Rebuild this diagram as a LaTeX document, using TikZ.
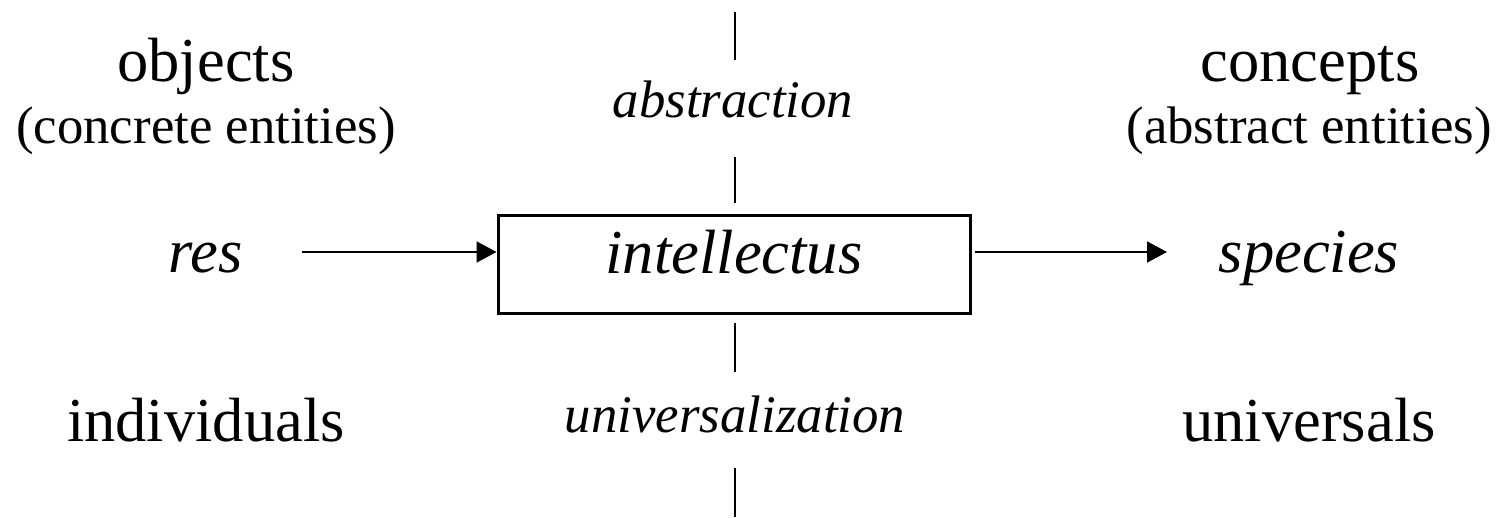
\documentclass[tikz,border=0pt]{standalone}
\usepackage{fontspec}
\setmainfont{Liberation Serif}
\usetikzlibrary{arrows.meta}
\tikzset{
  big/.style={font=\fontsize{62.5pt}{70pt}\selectfont, inner sep=0pt, anchor=base},
  small/.style={font=\fontsize{52.8pt}{60pt}\selectfont, inner sep=0pt, anchor=base},
  bigit/.style={big, font=\fontsize{62.5pt}{70pt}\selectfont\itshape},
  smallit/.style={small, font=\fontsize{52.8pt}{60pt}\selectfont\itshape},
  conn/.style={line width=2pt, -{Triangle[length=20pt,width=21pt]}},
  tick/.style={line width=2pt},
  boxed/.style={draw, line width=3pt, minimum width=472pt, minimum height=98pt, inner sep=0pt,
    text height=33pt, text depth=16pt, font=\fontsize{62.5pt}{70pt}\selectfont\itshape}
}
\begin{document}
\begin{tikzpicture}[x=1pt,y=-1pt]
\useasboundingbox (0,0) rectangle (1501,517);
% left column
\node[big] (objects) at (206,81) {objects};
\node[small] (concrete) at (206,143) {(concrete entities)};
\node[bigit] (res) at (206,272) {res};
\node[big] (individuals) at (206,441) {individuals};
% right column
\node[big] (concepts) at (1310,81) {concepts};
\node[small] (abstractent) at (1309,143) {(abstract entities)};
\node[bigit] (species) at (1309,272) {species};
\node[big] (universals) at (1309,441) {universals};
% centre
\node[boxed] (box) at (734,264.5) {intellectus};
\node[smallit] (abstraction) at (733,117) {abstraction};
\node[smallit] (universalization) at (735,432) {universalization};
% vertical ticks
\coordinate (t1a) at (735,12);  \coordinate (t1b) at (735,60);
\coordinate (t2a) at (735,157); \coordinate (t2b) at (735,203);
\coordinate (t3a) at (735,323); \coordinate (t3b) at (735,372);
\coordinate (t4a) at (735,468); \coordinate (t4b) at (735,517);
\draw[tick] (t1a) -- (t1b);
\draw[tick] (t2a) -- (t2b);
\draw[tick] (t3a) -- (t3b);
\draw[tick] (t4a) -- (t4b);
% arrows
\coordinate (a1) at (302,252);
\coordinate (a2) at (1167,252);
\draw[conn] (a1) -- (a1 -| box.west);
\draw[conn, shorten <=3pt] (a2 -| box.east) -- (a2);
\end{tikzpicture}
\end{document}
